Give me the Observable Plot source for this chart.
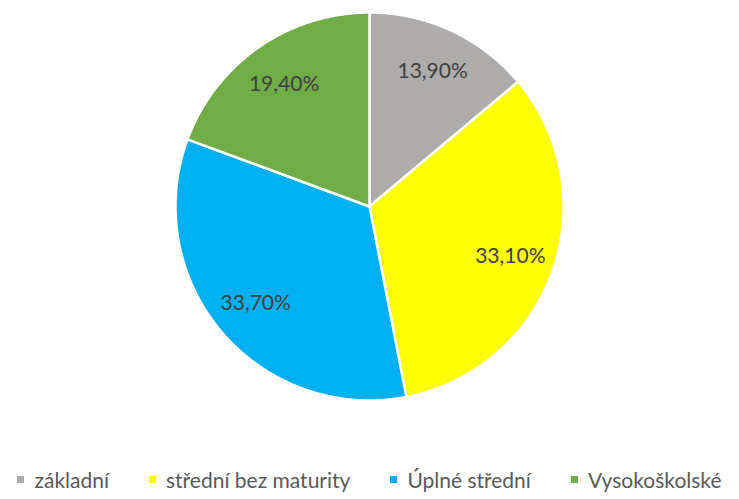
<!DOCTYPE html>
<html>
<head>
<meta charset="utf-8">
<script src="https://cdn.jsdelivr.net/npm/d3@7"></script>
<script src="https://cdn.jsdelivr.net/npm/@observablehq/plot@0.6"></script>
<style>
  body { margin: 0; background: #fff; font-family: Lato, sans-serif; }
  #legend { display: flex; justify-content: center; align-items: center; height: 39px; font-size: 21px; color: #595959; gap: 40px; }
  .item { display: flex; align-items: center; white-space: nowrap; }
  .sw { width: 7px; height: 7px; margin-right: 10px; }
</style>
</head>
<body>
<div id="chart"></div>
<div id="legend"></div>
<script>
const categories = ["základní", "střední bez maturity", "Úplné střední", "Vysokoškolské"];
const values = [13.9, 33.1, 33.7, 19.4];
const labels = ["13,90%", "33,10%", "33,70%", "19,40%"];
const colors = ["#AEABAB", "#FFFF00", "#00B0F0", "#70AD47"];

const arcs = d3.pie().sort(null).value(d => d)(values);

function ring(a0, a1, withCenter) {
  const n = Math.max(2, Math.ceil((a1 - a0) / 0.01));
  const pts = [];
  if (withCenter) pts.push([0, 0]);
  for (let i = 0; i <= n; i++) {
    const a = a0 + (a1 - a0) * i / n;
    pts.push([Math.sin(a), Math.cos(a)]);
  }
  pts.push(pts[0]);
  return pts;
}

const slices = arcs.map((a, i) => ({
  type: "Feature",
  properties: { category: categories[i], label: labels[i], mid: (a.startAngle + a.endAngle) / 2 },
  geometry: { type: "Polygon", coordinates: [ring(a.startAngle, a.endAngle, true)] }
}));

const outline = { type: "Polygon", coordinates: [ring(0, 2 * Math.PI, false)] };

const chart = Plot.plot({
  width: 739,
  height: 460,
  marginTop: 12,
  marginBottom: 60,
  marginLeft: 175,
  marginRight: 176,
  projection: { type: "reflect-y", domain: outline },
  color: { domain: categories, range: colors },
  style: { fontFamily: "Lato, sans-serif", background: "white" },
  marks: [
    Plot.geo(slices, { fill: d => d.properties.category, stroke: "white", strokeWidth: 2.5 }),
    Plot.text(slices, {
      x: d => 0.77 * Math.sin(d.properties.mid),
      y: d => 0.77 * Math.cos(d.properties.mid),
      text: d => d.properties.label,
      fontSize: 21,
      fill: "#404040"
    })
  ]
});
document.getElementById("chart").appendChild(chart);

const legend = document.getElementById("legend");
categories.forEach((c, i) => {
  const it = document.createElement("div");
  it.className = "item";
  const sw = document.createElement("span");
  sw.className = "sw";
  sw.style.background = colors[i];
  const t = document.createElement("span");
  t.textContent = c;
  it.appendChild(sw);
  it.appendChild(t);
  legend.appendChild(it);
});
</script>
</body>
</html>
